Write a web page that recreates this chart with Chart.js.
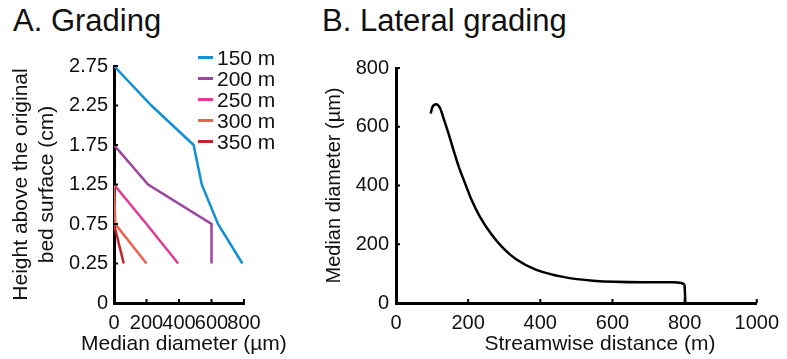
<!DOCTYPE html>
<html lang="en">
<head>
<meta charset="UTF-8">
<title>Grading and lateral grading</title>
<script src="https://cdn.jsdelivr.net/npm/chart.js"></script>
<style>
  body {
    margin: 0;
    width: 787px;
    height: 359px;
    background: #fff;
    font-family: 'Liberation Sans', Arial, sans-serif;
    color: #111;
    position: relative;
    overflow: hidden;
  }
  .panel-title {
    position: absolute;
    top: 3px;
    font-size: 31px;
    white-space: nowrap;
  }
  .box {
    position: absolute;
    top: 0;
    height: 359px;
  }
  #boxA { left: 0; width: 290px; }
  #boxB { left: 300px; width: 487px; }
  .axis-title {
    position: absolute;
    top: 331px;
    height: 24px;
    line-height: 24px;
    font-size: 21px;
    text-align: center;
    white-space: nowrap;
  }
  .legend {
    position: absolute;
    left: 198px;
    top: 47px;
    font-size: 21px;
  }
  .legend .item {
    display: flex;
    align-items: center;
    height: 21px;
  }
  .legend .swatch {
    width: 15px;
    height: 3px;
    margin-right: 4px;
  }
</style>
</head>
<body>
  <div class="panel-title" style="left:13px">A. Grading</div>
  <div class="panel-title" style="left:322px">B. Lateral grading</div>
  <div class="box" id="boxA"><canvas id="gradingChart"></canvas></div>
  <div class="box" id="boxB"><canvas id="lateralChart"></canvas></div>
  <div class="axis-title" style="left:81px;width:200px">Median diameter (µm)</div>
  <div class="axis-title" style="left:475px;width:250px">Streamwise distance (m)</div>
  <div class="legend" id="legendA"></div>

<script>
// Panel A: height labels (equally spaced, as in the original) and runs
const heightLabels = ['2.75', '2.25', '1.75', '1.25', '0.75', '0.25', '0'];
const runNames = ['150 m', '200 m', '250 m', '300 m', '350 m'];
const runColors = ['#1190d6', '#9c449e', '#e23b96', '#f0604e', '#c0232c'];

const d150 = [0, 230, 490, 540, 640, 790];
const h150 = ['2.75', '2.25', '1.75', '1.25', '0.75', '0.25'];
const d200 = [0, 210, 600, 600];
const h200 = ['1.75', '1.25', '0.75', '0.25'];
const d250 = [0, 200, 395];
const h250 = ['1.25', '0.75', '0.25'];
const d300 = [0, 8, 200];
const h300 = ['1.25', '0.75', '0.25'];
const d350 = [0, 60];
const h350 = ['0.75', '0.25'];
const diameterTicks = [0, 200, 400, 600, 800];

// Panel B: median diameter along the stream
const distance = [96, 101, 111, 122, 133, 145, 159, 175, 191, 209, 232, 265, 297, 334, 389, 463, 546, 685, 768, 790, 800];
const medianDiam = [645, 667, 677, 664, 624, 579, 522, 460, 409, 352, 295, 233, 187, 148, 113, 89, 76, 71, 71, 68, 63];
const dropDistance = [800, 802];
const dropDiam = [63, 0];

Chart.defaults.font.family = "'Liberation Sans', Arial, sans-serif";
Chart.defaults.font.size = 20;
Chart.defaults.color = '#111';

function zip(xs, ys) {
    return xs.map((x, i) => ({x: x, y: ys[i]}));
}

// small tick marks pointing into the plot, like the original
const innerTicks = {
    id: 'innerTicks',
    afterDraw(chart) {
        const {ctx, chartArea, scales} = chart;
        ctx.save();
        ctx.strokeStyle = '#000';
        ctx.lineWidth = 2;
        ctx.beginPath();
        scales.x.ticks.forEach((t, i) => {
            const px = scales.x.getPixelForTick(i);
            ctx.moveTo(px, chartArea.bottom);
            ctx.lineTo(px, chartArea.bottom - 4);
        });
        scales.y.ticks.forEach((t, i) => {
            const py = scales.y.getPixelForTick(i);
            ctx.moveTo(chartArea.left, py);
            ctx.lineTo(chartArea.left + 4, py);
        });
        ctx.stroke();
        ctx.restore();
    }
};

const runData = [[d150, h150], [d200, h200], [d250, h250], [d300, h300], [d350, h350]];

new Chart(document.getElementById('gradingChart'), {
    type: 'line',
    data: {
        datasets: runData.map((r, i) => ({
            label: runNames[i],
            data: zip(r[0], r[1]),
            borderColor: runColors[i],
            borderWidth: 2.5,
            pointRadius: 0,
            tension: 0
        })).reverse()
    },
    options: {
        responsive: true,
        maintainAspectRatio: false,
        animation: false,
        layout: { padding: { top: 66, right: 46, left: 0, bottom: 0 } },
        plugins: { legend: { display: false }, tooltip: { enabled: false } },
        scales: {
            x: {
                type: 'linear',
                min: 0,
                max: 800,
                afterBuildTicks: (scale) => { scale.ticks = diameterTicks.map(v => ({value: v})); },
                afterFit: (scale) => { scale.height = 56; },
                grid: { display: false, drawTicks: false },
                border: { display: true, color: '#000', width: 3 },
                ticks: { autoSkip: false, maxRotation: 0, padding: 8 }
            },
            y: {
                type: 'category',
                labels: heightLabels,
                afterFit: (scale) => { scale.width = 114; },
                grid: { display: false, drawTicks: false },
                border: { display: true, color: '#000', width: 3 },
                ticks: { autoSkip: false, padding: 6 },
                title: {
                    display: true,
                    text: ['Height above the original', 'bed surface (cm)'],
                    padding: { top: 9, bottom: 0 },
                    font: { size: 21, lineHeight: 1.2 }
                }
            }
        }
    },
    plugins: [innerTicks]
});

new Chart(document.getElementById('lateralChart'), {
    type: 'line',
    data: {
        datasets: [
            {
                label: 'Median diameter',
                data: zip(distance, medianDiam),
                borderColor: '#000',
                borderWidth: 2.5,
                pointRadius: 0,
                cubicInterpolationMode: 'monotone'
            },
            {
                label: 'Front',
                data: zip(dropDistance, dropDiam),
                borderColor: '#000',
                borderWidth: 2.5,
                pointRadius: 0,
                tension: 0
            }
        ]
    },
    options: {
        responsive: true,
        maintainAspectRatio: false,
        animation: false,
        layout: { padding: { top: 68, right: 30, left: 0, bottom: 0 } },
        plugins: { legend: { display: false }, tooltip: { enabled: false } },
        scales: {
            x: {
                type: 'linear',
                min: 0,
                max: 1000,
                afterFit: (scale) => { scale.height = 56; },
                grid: { display: false, drawTicks: false },
                border: { display: true, color: '#000', width: 3 },
                ticks: { stepSize: 200, autoSkip: false, maxRotation: 0, padding: 8, callback: (v) => String(v) }
            },
            y: {
                type: 'linear',
                min: 0,
                max: 800,
                afterFit: (scale) => { scale.width = 96; },
                grid: { display: false, drawTicks: false },
                border: { display: true, color: '#000', width: 3 },
                ticks: { stepSize: 200, padding: 7, callback: (v) => String(v) },
                title: {
                    display: true,
                    text: 'Median diameter (µm)',
                    padding: { top: 22, bottom: 0 },
                    font: { size: 20, lineHeight: 1.2 }
                }
            }
        }
    },
    plugins: [innerTicks]
});

// legend for panel A, built from the run names and colours
const legendA = document.getElementById('legendA');
runNames.forEach((name, i) => {
    const item = document.createElement('div');
    item.className = 'item';
    item.innerHTML = '<span class="swatch" style="background:' + runColors[i] + '"></span>' + name;
    legendA.appendChild(item);
});
</script>
</body>
</html>
